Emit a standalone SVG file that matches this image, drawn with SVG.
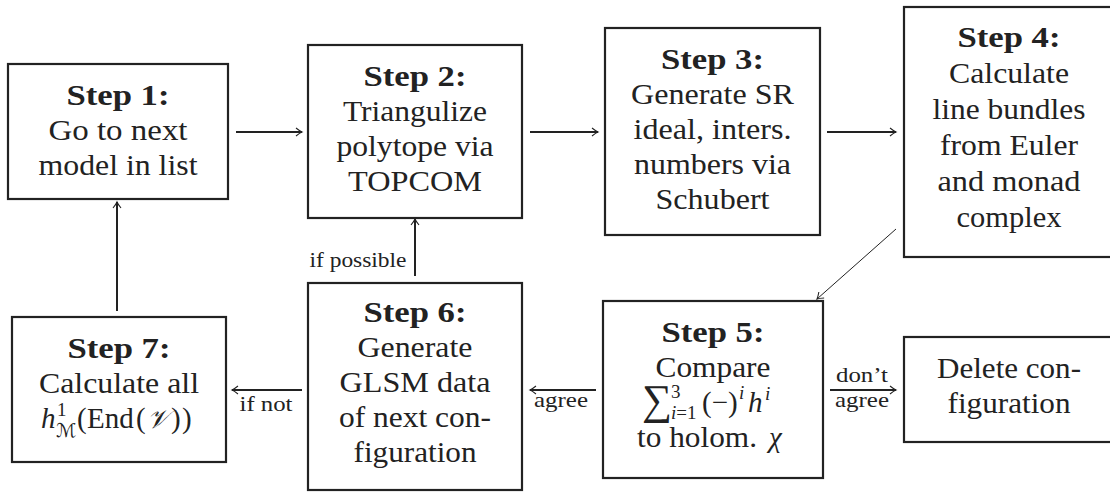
<svg xmlns="http://www.w3.org/2000/svg" width="1110" height="494" viewBox="0 0 1110 494">
<style>
.b{fill:#fff;stroke:#222;stroke-width:2.2}
.t{font-family:"Liberation Serif",serif;font-size:29px;fill:#222;text-anchor:middle}
.s{font-weight:bold}
.l{font-family:"Liberation Serif",serif;font-size:22px;fill:#222;text-anchor:middle}
.m{font-family:"Liberation Serif",serif;font-size:29px;fill:#222}
.sc{font-size:19px}
.it{font-style:italic}
.cal{font-family:"DejaVu Serif","DejaVu Sans","Noto Sans",serif;font-style:italic}
.c line{stroke:#222;stroke-width:2;marker-end:url(#ah)}
.c line.thin{stroke-width:1}
</style>
<defs>
<marker id="ah" markerUnits="userSpaceOnUse" markerWidth="12" markerHeight="12" viewBox="-8 -6 10 12" refX="0" refY="0" orient="auto">
<path d="M-6,-4 Q-2,-0.8 0,0 Q-2,0.8 -6,4" fill="none" stroke="#222" stroke-width="1.1"/>
</marker>
</defs>
<rect width="1110" height="494" fill="#fff"/>

<g id="step1">
<rect class="b" x="8" y="64" width="220" height="135"/>
<text class="t s" x="118" y="105" textLength="103" lengthAdjust="spacingAndGlyphs">Step 1:</text>
<text class="t" x="118" y="140" textLength="139" lengthAdjust="spacingAndGlyphs">Go to next</text>
<text class="t" x="118" y="175" textLength="159" lengthAdjust="spacingAndGlyphs">model in list</text>
</g>

<g id="step2">
<rect class="b" x="308" y="45" width="214" height="173"/>
<text class="t s" x="415" y="86" textLength="103" lengthAdjust="spacingAndGlyphs">Step 2:</text>
<text class="t" x="415" y="121" textLength="144" lengthAdjust="spacingAndGlyphs">Triangulize</text>
<text class="t" x="415" y="156" textLength="157" lengthAdjust="spacingAndGlyphs">polytope via</text>
<text class="t" x="415" y="191" textLength="134" lengthAdjust="spacingAndGlyphs">TOPCOM</text>
</g>

<g id="step3">
<rect class="b" x="605" y="28" width="215" height="207"/>
<text class="t s" x="712.5" y="69" textLength="103" lengthAdjust="spacingAndGlyphs">Step 3:</text>
<text class="t" x="712.5" y="104" textLength="163" lengthAdjust="spacingAndGlyphs">Generate SR</text>
<text class="t" x="712.5" y="139" textLength="158" lengthAdjust="spacingAndGlyphs">ideal, inters.</text>
<text class="t" x="712.5" y="174" textLength="157" lengthAdjust="spacingAndGlyphs">numbers via</text>
<text class="t" x="712.5" y="209" textLength="114" lengthAdjust="spacingAndGlyphs">Schubert</text>
</g>

<g id="step4">
<rect class="b" x="904" y="7" width="212" height="250"/>
<text class="t s" x="1009" y="47" textLength="103" lengthAdjust="spacingAndGlyphs">Step 4:</text>
<text class="t" x="1009" y="83" textLength="120" lengthAdjust="spacingAndGlyphs">Calculate</text>
<text class="t" x="1009" y="119" textLength="153" lengthAdjust="spacingAndGlyphs">line bundles</text>
<text class="t" x="1009" y="155" textLength="138" lengthAdjust="spacingAndGlyphs">from Euler</text>
<text class="t" x="1009" y="191" textLength="143" lengthAdjust="spacingAndGlyphs">and monad</text>
<text class="t" x="1009" y="227" textLength="105" lengthAdjust="spacingAndGlyphs">complex</text>
</g>

<g id="step5">
<rect class="b" x="603" y="301" width="220" height="177"/>
<text class="t s" x="713" y="342" textLength="103" lengthAdjust="spacingAndGlyphs">Step 5:</text>
<text class="t" x="713" y="377" textLength="115" lengthAdjust="spacingAndGlyphs">Compare</text>
<text class="m" y="412"><tspan x="642" y="414" font-size="42">∑</tspan><tspan class="sc" x="671" y="398">3</tspan><tspan class="sc" x="671" y="419"><tspan class="it">i</tspan>=1</tspan><tspan x="702" y="412">(−)</tspan><tspan class="sc it" x="739" y="399">i</tspan><tspan class="it" x="748" y="412">h</tspan><tspan class="sc it" x="765" y="400">i</tspan></text>
<text class="m" x="637" y="447" textLength="120" lengthAdjust="spacingAndGlyphs">to holom.</text>
<text class="m it" x="769" y="447">χ</text>
</g>

<g id="step6">
<rect class="b" x="308" y="283" width="214" height="207"/>
<text class="t s" x="415" y="322" textLength="103" lengthAdjust="spacingAndGlyphs">Step 6:</text>
<text class="t" x="415" y="357" textLength="115" lengthAdjust="spacingAndGlyphs">Generate</text>
<text class="t" x="415" y="392" textLength="151" lengthAdjust="spacingAndGlyphs">GLSM data</text>
<text class="t" x="415" y="427" textLength="152" lengthAdjust="spacingAndGlyphs">of next con-</text>
<text class="t" x="415" y="462" textLength="123" lengthAdjust="spacingAndGlyphs">figuration</text>
</g>

<g id="step7">
<rect class="b" x="12" y="317" width="214" height="145"/>
<text class="t s" x="119" y="358" textLength="103" lengthAdjust="spacingAndGlyphs">Step 7:</text>
<text class="t" x="119" y="393" textLength="160" lengthAdjust="spacingAndGlyphs">Calculate all</text>
<text class="m" y="428"><tspan class="it" x="41" y="428">h</tspan><tspan class="sc" x="57" y="416">1</tspan><tspan class="sc cal" x="56" y="437">ℳ</tspan><tspan x="77" y="428">(</tspan><tspan x="87" y="428">End</tspan><tspan x="136" y="428">(</tspan><tspan class="cal" x="147" y="428" font-size="26">𝒱</tspan><tspan x="171" y="428">)</tspan><tspan x="182" y="428">)</tspan></text>
</g>

<g id="delete">
<rect class="b" x="904" y="337" width="212" height="105"/>
<text class="t" x="1009" y="378" textLength="144" lengthAdjust="spacingAndGlyphs">Delete con-</text>
<text class="t" x="1009" y="413" textLength="123" lengthAdjust="spacingAndGlyphs">figuration</text>
</g>

<g id="connectors" class="c">
<line x1="236" y1="132" x2="302" y2="132"/>
<line x1="530" y1="132" x2="598" y2="132"/>
<line x1="827" y1="132" x2="896" y2="132"/>
<line class="thin" x1="896" y1="229" x2="817" y2="299"/>
<line x1="596" y1="390" x2="530" y2="390"/>
<line x1="830" y1="390" x2="896" y2="390"/>
<line x1="302" y1="390" x2="232" y2="390"/>
<line x1="415" y1="276" x2="415" y2="219"/>
<line x1="117" y1="311" x2="117" y2="202"/>
<text class="l" x="561" y="407" textLength="54" lengthAdjust="spacingAndGlyphs">agree</text>
<text class="l" x="862" y="382" textLength="52" lengthAdjust="spacingAndGlyphs">don’t</text>
<text class="l" x="862" y="407" textLength="54" lengthAdjust="spacingAndGlyphs">agree</text>
<text class="l" x="266" y="411" textLength="53" lengthAdjust="spacingAndGlyphs">if not</text>
<text class="l" x="358" y="267" textLength="97" lengthAdjust="spacingAndGlyphs">if possible</text>
</g>
</svg>
